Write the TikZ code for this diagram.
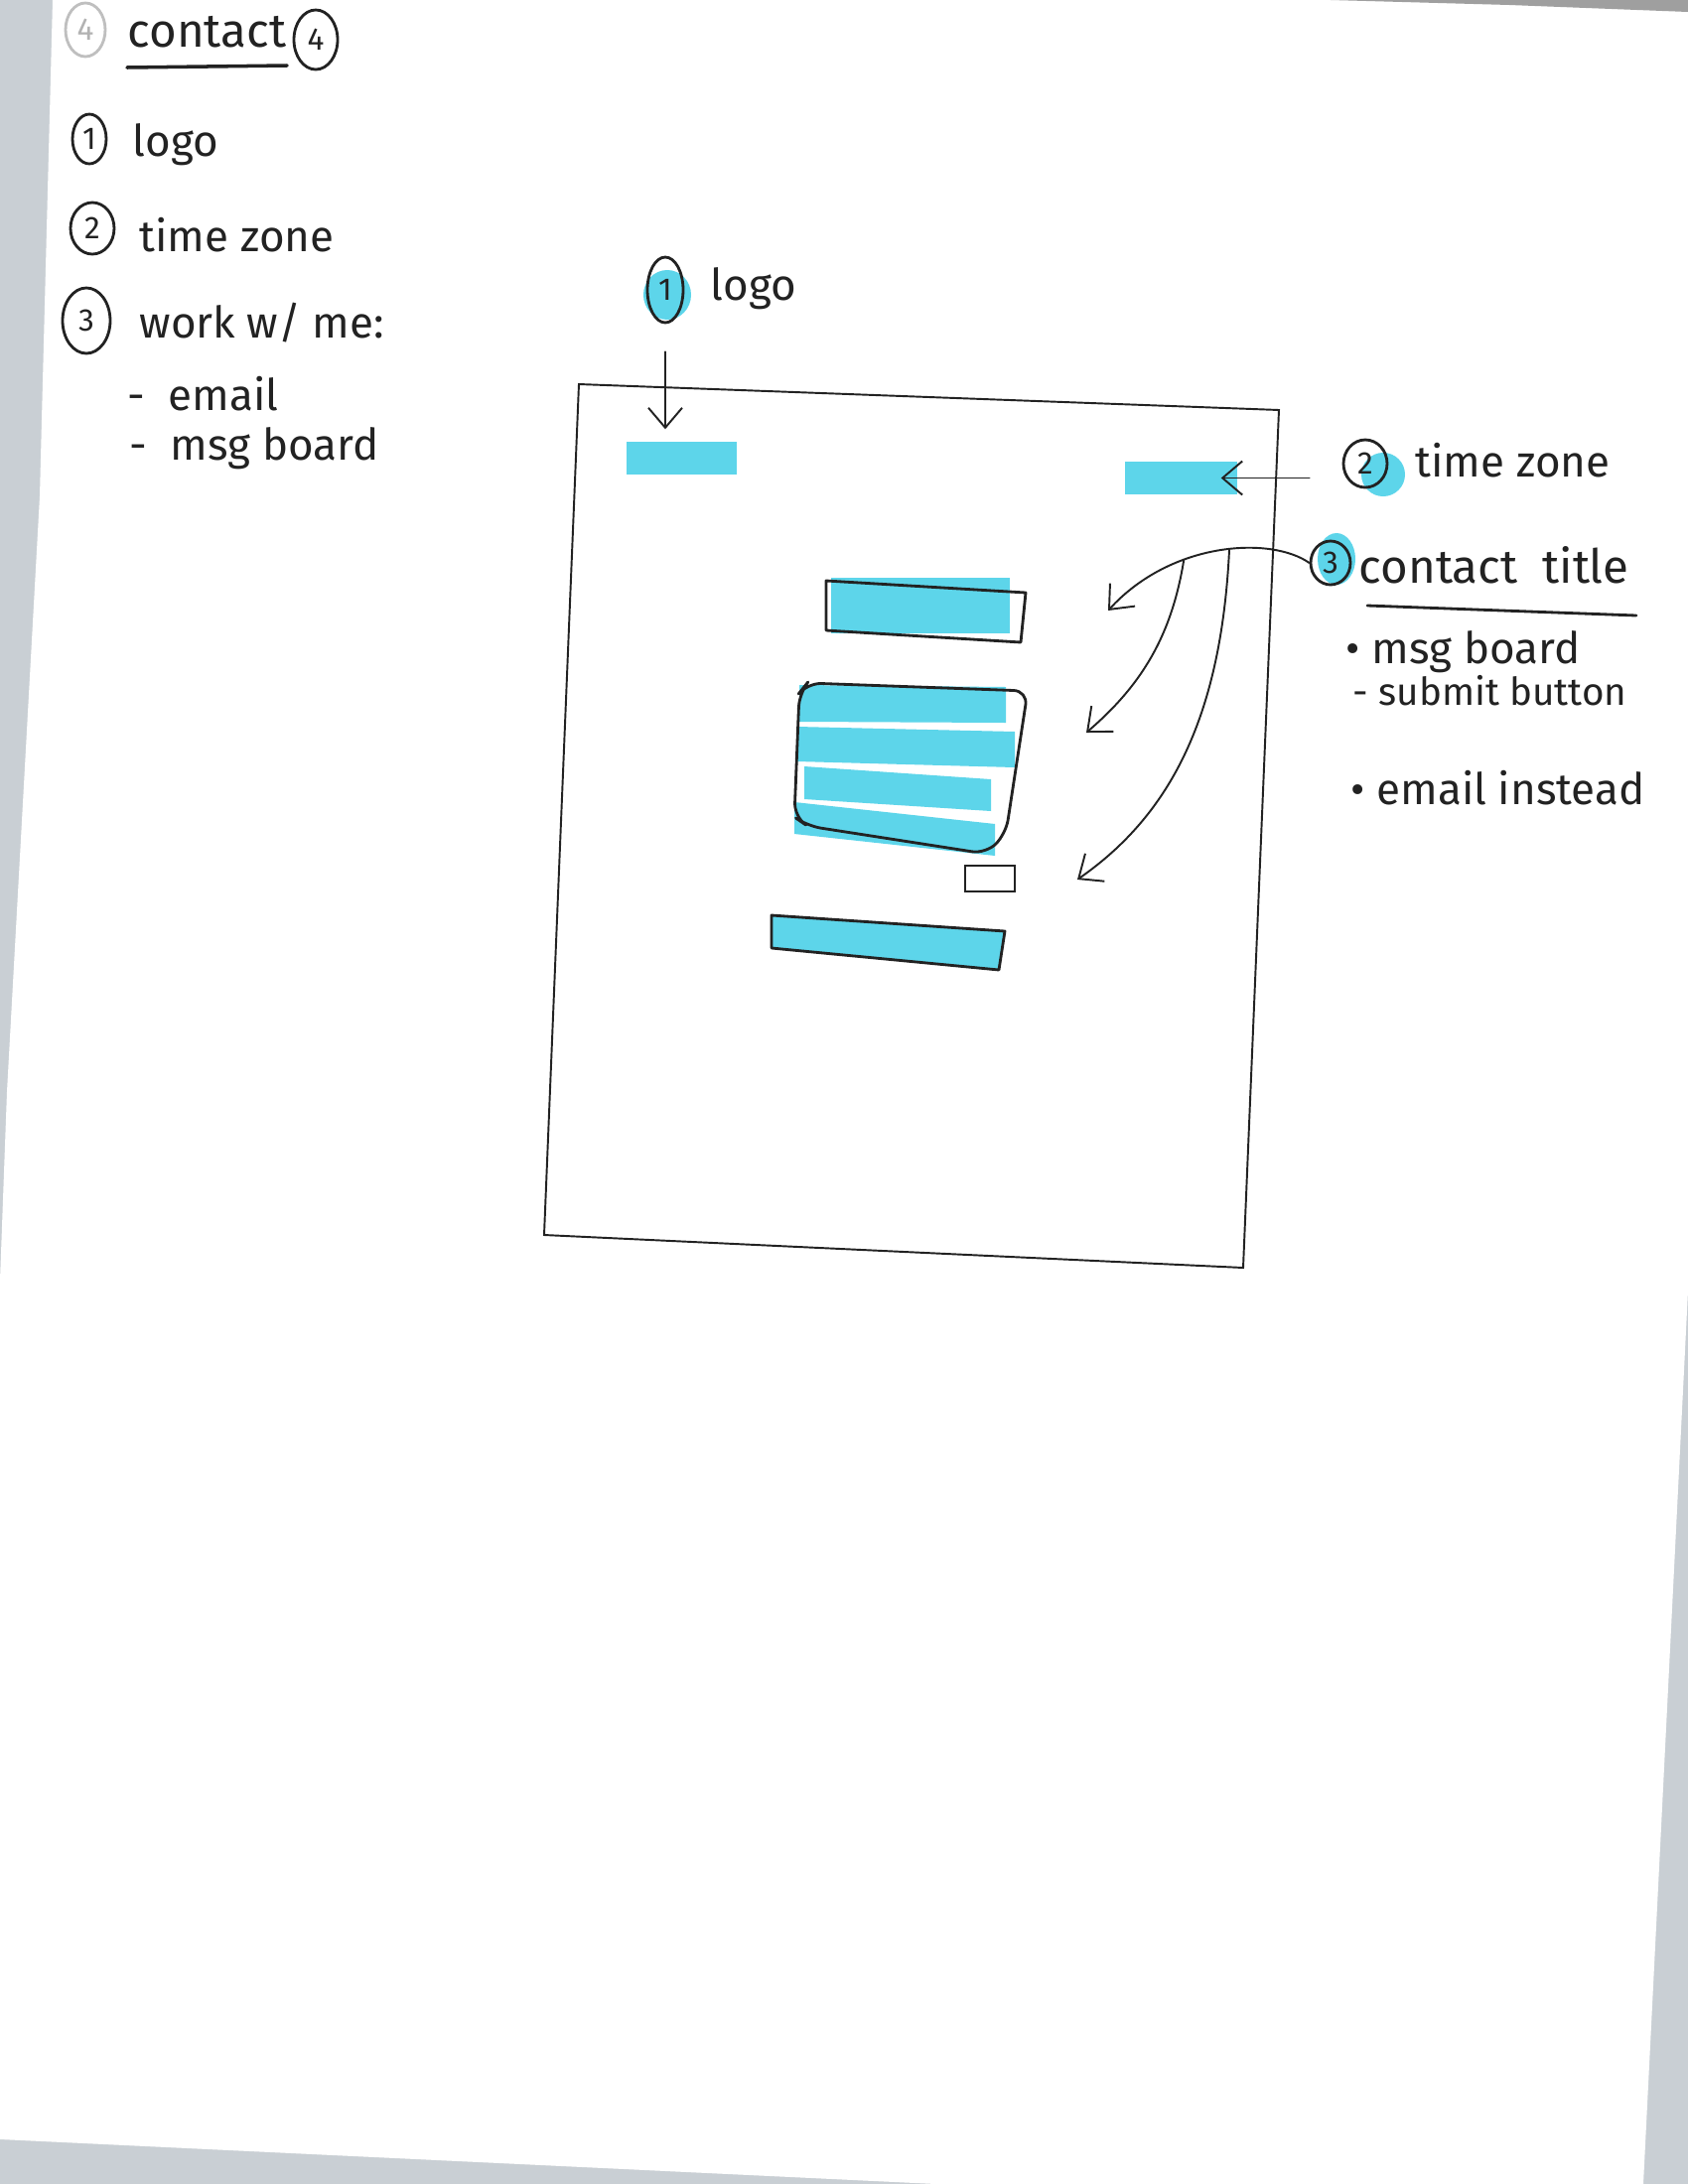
\documentclass[tikz,border=0pt]{standalone}
\usepackage{fontspec}
\setmainfont{Fira Sans}
\usetikzlibrary{arrows.meta,positioning,calc,shapes.geometric,fit}
\definecolor{marker}{HTML}{5DD5EA}
\definecolor{ink}{HTML}{222222}
\definecolor{scanbg}{HTML}{C9CFD4}
\newcommand{\handsize}{\fontsize{12.5}{15}\selectfont}
\newcommand{\headsize}{\fontsize{13.5}{16}\selectfont}
\newcommand{\tinyhand}{\fontsize{11}{13}\selectfont}
\newcommand{\ringsize}{\fontsize{9}{10}\selectfont}

\begin{document}
\begin{tikzpicture}[x=0.1mm, y=-0.1mm,
  pen/.style={draw=ink, line width=0.8pt, line cap=round, line join=round},
  thinpen/.style={draw=ink, line width=0.55pt, line cap=round},
  hilite/.style={fill=marker, draw=none, inner sep=0pt},
  note/.style={anchor=base west, inner sep=0pt, font=\handsize, text=ink},
  numring/.style={draw=ink, ellipse, line width=0.8pt, inner sep=0pt, font=\ringsize, text=ink},
  blob/.style={fill=marker, ellipse, draw=none, inner sep=0pt},
  arr/.style={thinpen, -{Straight Barb[length=2mm, width=3.4mm]}}
]
  \useasboundingbox (0,0) rectangle (1700,2200);
  % scanned sheet
  \fill[scanbg] (0,0) rectangle (1700,2200);
  \fill[white] (53,0) -- (1700,0) -- (1700,1300) -- (1670,1900) -- (1655,2200)
    -- (943,2200) -- (0,2155) -- (0,1290) -- (7,1100) -- (40,500) -- cycle;
  \fill[gray!75] (1340,0) -- (1700,0) -- (1700,12) -- (1520,5) -- cycle;

  % notes on the left
  \node[numring, draw=gray!50, text=gray!60, minimum width=4mm, minimum height=5.4mm] (ringfour) at (86,30) {4};
  \node[note, font=\headsize] (head) at (128,47) {contact};
  \draw[pen, line width=1pt] ([yshift=-2.1mm]head.base west) -- ([yshift=-1.9mm]head.base east);
  \node[numring, minimum width=4.4mm, minimum height=6mm] (pagefour) at (318,40) {4};

  \node[numring, minimum width=3.4mm, minimum height=5mm] (ringone) at (90,140) {1};
  \node[note] (noteone) at (133,157) {logo};
  \node[numring, minimum width=4.4mm, minimum height=5.2mm] (ringtwo) at (93,230) {2};
  \node[note] (notetwo) at (140,253) {time zone};
  \node[numring, minimum width=4.8mm, minimum height=6.6mm] (ringthree) at (87,323) {3};
  \node[note] (notethree) at (140,340) {work w/ me:};
  \node[note] (noteemail) at (128,413) {-\ \ email};
  \node[note] (noteboard) at (130,463) {-\ \ msg board};

  % page frame
  \draw[thinpen] (583,387) -- (1288,413) -- (1252,1277) -- (548,1244) -- cycle;

  % header blocks
  \node[hilite, fit={(631,445) (742,478)}] (logoblk) {};
  \node[hilite, fit={(1133,465) (1246,498)}] (tzblk) {};

  % contact title
  \node[hilite, fit={(837,582) (1017,638)}] (titleblk) {};
  \draw[pen] (832,585) -- (1033,597) -- (1028,647) -- (832,635) -- cycle;

  % message board
  \fill[marker] (805,690) -- (1013,692) -- (1013,728) -- (805,727) -- cycle;
  \fill[marker] (803,732) -- (1022,737) -- (1022,773) -- (803,767) -- cycle;
  \fill[marker] (810,772) -- (998,785) -- (998,817) -- (810,805) -- cycle;
  \fill[marker] (800,808) -- (1002,830) -- (1002,862) -- (800,840) -- cycle;
  \draw[pen, rounded corners=4pt] (813,688) -- (1035,696) -- (1013,840) -- (993,860)
    -- (813,832) -- (800,823) -- (805,698) -- cycle;
  \node[draw=ink, line width=0.8pt, inner sep=0pt, fit={(972,872) (1022,898)}] (submit) {};

  % email bar
  \filldraw[pen, fill=marker] (777,922) -- (1012,938) -- (1006,977) -- (777,955) -- cycle;

  % callouts
  \node[blob, minimum width=4.8mm, minimum height=5mm] (blobone) at (672,297) {};
  \node[numring, minimum width=3.6mm, minimum height=6.6mm] (calloutone) at (670,292) {1};
  \node[note] (labelone) at (715,302) {logo};

  \node[blob, minimum width=4.4mm, minimum height=4.4mm] (blobtwo) at (1393,478) {};
  \node[numring, minimum width=4.4mm, minimum height=4.8mm] (callouttwo) at (1375,467) {2};
  \node[note] (labeltwo) at (1425,480) {time zone};

  \node[blob, minimum width=3.8mm, minimum height=5.2mm] (blobthree) at (1346,563) {};
  \node[numring, minimum width=4mm, minimum height=4.4mm] (calloutthree) at (1340,567) {3};
  \node[note, font=\fontsize{13.5}{16}\selectfont] (labelthree) at (1368,587) {contact\ \ title};
  \draw[pen] (1377,610) -- (1648,620);
  \node[note] (itemboard) at (1355,668) {•\ msg board};
  \node[note, font=\tinyhand] (itemsubmit) at (1362,710) {-\ submit button};
  \node[note] (itememail) at (1360,810) {•\ email instead};

  \coordinate (tiptitle) at (1116,615);
  \coordinate (tipboard) at (1094,738);
  \coordinate (tipsubmit) at (1085,886);

  \draw[arr, shorten <=2.8mm, shorten >=1.2mm] (calloutone.south) -- (calloutone.south |- logoblk.north);
  \draw[arr, shorten <=3.3mm] (callouttwo.west |- tzblk.east) -- ([xshift=-1.7mm]tzblk.east);
  \draw[arr] (calloutthree.west) .. controls (1280,540) and (1180,545) ..
    coordinate[pos=0.45] (forkone) coordinate[pos=0.65] (forktwo) (tiptitle);
  \draw[arr] (forktwo) .. controls (1180,640) and (1150,690) .. (tipboard);
  \draw[arr] (forkone) .. controls (1230,720) and (1180,820) .. (tipsubmit);
\end{tikzpicture}
\end{document}
